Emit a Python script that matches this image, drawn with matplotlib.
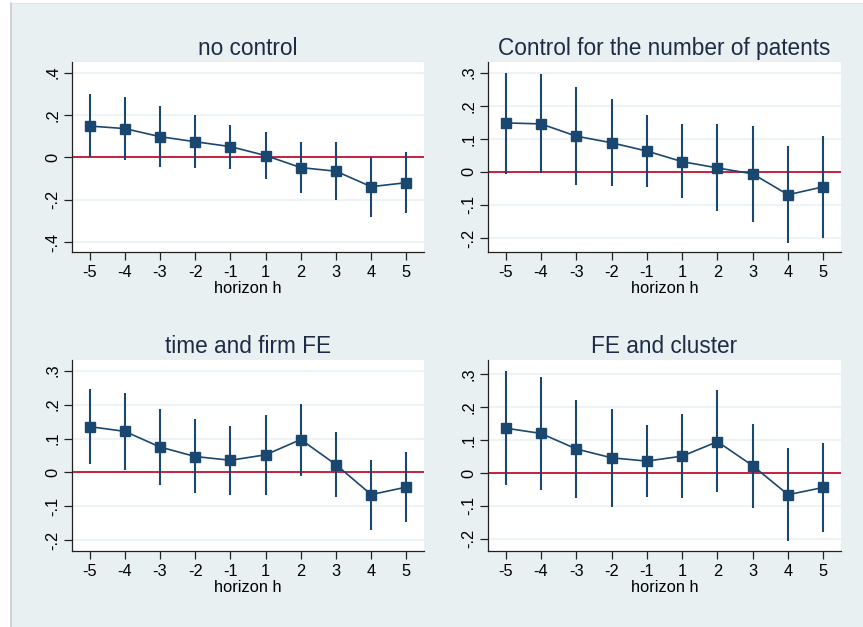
import numpy as np
import matplotlib
matplotlib.use('Agg')
import matplotlib.pyplot as plt
from matplotlib.patches import Rectangle
from matplotlib.lines import Line2D

plt.rcParams['font.family'] = ['Liberation Sans', 'DejaVu Sans']

horizons = ['-5', '-4', '-3', '-2', '-1', '1', '2', '3', '4', '5']

# point estimates and 95% bands for each specification
no_ctrl = [0.148, 0.136, 0.098, 0.074, 0.051, 0.009, -0.048, -0.065, -0.138, -0.119]
no_ctrl_lo = [0.002, -0.010, -0.047, -0.050, -0.055, -0.100, -0.170, -0.200, -0.280, -0.260]
no_ctrl_hi = [0.298, 0.285, 0.243, 0.198, 0.155, 0.118, 0.072, 0.075, 0.000, 0.024]

patents = [0.148, 0.145, 0.108, 0.088, 0.063, 0.031, 0.012, -0.006, -0.069, -0.045]
patents_lo = [-0.006, -0.004, -0.041, -0.042, -0.047, -0.080, -0.119, -0.152, -0.215, -0.200]
patents_hi = [0.300, 0.296, 0.256, 0.220, 0.172, 0.145, 0.144, 0.138, 0.078, 0.109]

fe = [0.135, 0.121, 0.075, 0.047, 0.036, 0.052, 0.097, 0.023, -0.065, -0.043]
fe_lo = [0.026, 0.007, -0.038, -0.061, -0.065, -0.065, -0.009, -0.071, -0.169, -0.147]
fe_hi = [0.246, 0.234, 0.187, 0.156, 0.137, 0.168, 0.202, 0.118, 0.037, 0.061]

cluster = [0.136, 0.120, 0.073, 0.046, 0.036, 0.051, 0.095, 0.022, -0.066, -0.044]
cluster_lo = [-0.037, -0.053, -0.075, -0.104, -0.074, -0.076, -0.058, -0.107, -0.208, -0.179]
cluster_hi = [0.311, 0.291, 0.223, 0.195, 0.146, 0.178, 0.251, 0.150, 0.077, 0.092]

yticks_wide = [-0.4, -0.2, 0, 0.2, 0.4]
yticks_narrow = [-0.2, -0.1, 0, 0.1, 0.2, 0.3]

NAVY = '#1a476f'
BG = '#e8f0f2'
GRID = '#eaf2f3'
RED = '#c8102e'


def stata_label(v):
    if abs(v) < 1e-9:
        return '0'
    s = f'{v:.1f}'
    return s.replace('0.', '.')


panels = [
    ('no control', no_ctrl, no_ctrl_lo, no_ctrl_hi, yticks_wide, (-0.446, 0.45),
     [72, 62, 424, 252]),
    ('Control for the number of patents', patents, patents_lo, patents_hi, yticks_narrow,
     (-0.242, 0.332), [488, 62, 841, 252]),
    ('time and firm FE', fe, fe_lo, fe_hi, yticks_narrow, (-0.231, 0.331),
     [72, 360, 424, 551]),
    ('FE and cluster', cluster, cluster_lo, cluster_hi, yticks_narrow, (-0.237, 0.343),
     [488, 360, 841, 551]),
]

W, H = 863, 627
fig = plt.figure(figsize=(W / 100, H / 100), dpi=100)
fig.patch.set_facecolor('white')
fig.patches.append(Rectangle((10 / W, 0), 1 - 10 / W, 1 - 3 / H, transform=fig.transFigure,
                             facecolor=BG, edgecolor='none', zorder=-10))
fig.lines.append(Line2D([10.5 / W, 10.5 / W], [0, 1 - 3 / H], transform=fig.transFigure,
                        color='#c8cccf', lw=1.2))
fig.lines.append(Line2D([10.5 / W, 1], [1 - 3 / H, 1 - 3 / H], transform=fig.transFigure,
                        color='#e0e4e6', lw=0.8))

x = np.arange(1, len(horizons) + 1)
for title, est, lo, hi, yt, ylim, (x0, y0, x1, y1) in panels:
    ax = fig.add_axes([x0 / W, 1 - y1 / H, (x1 - x0) / W, (y1 - y0) / H])
    ax.set_facecolor('white')
    est = np.array(est)
    lo = np.array(lo)
    hi = np.array(hi)
    for t in yt:
        ax.axhline(t, color=GRID, lw=1.2, zorder=0)
    ax.axhline(0, color=RED, lw=1.3, zorder=1)
    ax.vlines(x, lo, hi, color=NAVY, lw=1.5, zorder=2)
    ax.plot(x, est, color=NAVY, lw=1.2, marker='s', markersize=6.5, zorder=3)
    ax.set_xlim(0.5, 10.5)
    ax.set_ylim(*ylim)
    ax.set_xticks(x)
    ax.set_xticklabels(horizons)
    ax.set_yticks(yt)
    ax.set_yticklabels([stata_label(v) for v in yt], rotation=90, va='center')
    for s in ['top', 'right']:
        ax.spines[s].set_visible(False)
    for s in ['left', 'bottom']:
        ax.spines[s].set_color('#222222')
        ax.spines[s].set_linewidth(0.9)
    ax.tick_params(axis='both', length=5.5, width=0.9, color='#222222', labelsize=11.8,
                   labelcolor='black')
    ax.tick_params(axis='x', pad=4)
    ax.tick_params(axis='y', pad=3)
    ax.set_xlabel('horizon h', fontsize=11.8, labelpad=0.5)
    ax.set_title(title, fontsize=16.3, color='#1e2b45', pad=5)

fig.savefig('out.png', dpi=100, facecolor=fig.get_facecolor())
